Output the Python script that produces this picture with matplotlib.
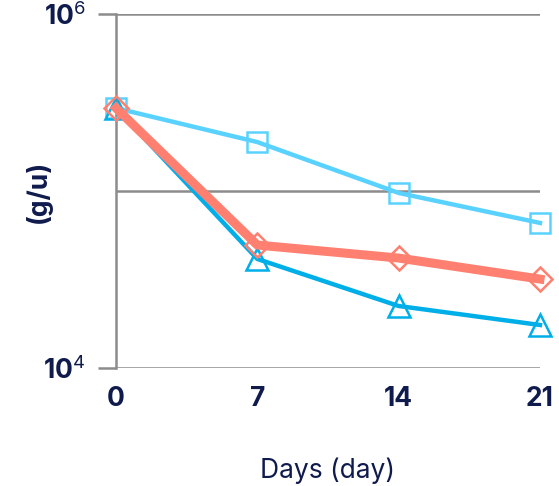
import numpy as np
import matplotlib.pyplot as plt
from matplotlib.ticker import FixedLocator, NullLocator

plt.rcParams['font.family'] = ['Inter', 'DejaVu Sans']
plt.rcParams['mathtext.fontset'] = 'custom'
plt.rcParams['mathtext.rm'] = 'Inter'
plt.rcParams['mathtext.bf'] = 'Inter:bold'

days = [0, 7, 14, 21]
squares = [2.94e5, 1.89e5, 9.75e4, 6.6e4]
diamonds = [2.94e5, 4.95e4, 4.18e4, 3.18e4]
triangles = [2.94e5, 4.13e4, 2.24e4, 1.75e4]

navy = '#0f1b4c'
grid_c = '#8c8c8c'

fig = plt.figure(figsize=(5.59, 4.86), dpi=100)
ax = fig.add_axes([116 / 559, 1 - 368 / 486, (540 - 116) / 559, (368 - 14) / 486])

ax.set_yscale('log')
ax.set_ylim(1e4, 1e6)
ax.set_xlim(0, 21)

for v in [1e4, 1e5, 1e6]:
    ax.axhline(v, color=grid_c, lw=1.8, zorder=1)

ax.plot(days, squares, color='#5ad2ff', lw=3.2, marker='s', ms=14.5,
        mfc='none', mec='#5ad2ff', mew=1.8, clip_on=False, zorder=3)
ax.plot(days, triangles, color='#00aee8', lw=3.2, marker='^', ms=16,
        mfc='none', mec='#00aee8', mew=1.8, clip_on=False, zorder=4)
ax.plot(days, diamonds, color='#ff8070', lw=6.5, marker='D', ms=12.5,
        mfc='none', mec='#ff8070', mew=1.8, clip_on=False, zorder=5)

for s in ['top', 'right', 'bottom']:
    ax.spines[s].set_visible(False)
ax.spines['left'].set_color(grid_c)
ax.spines['left'].set_linewidth(1.8)

ax.yaxis.set_major_locator(FixedLocator([1e4, 1e6]))
ax.yaxis.set_minor_locator(NullLocator())
ax.set_yticklabels([r'10$^{4}$', r'10$^{6}$'], fontsize=19, fontweight='bold', color=navy)
ax.tick_params(axis='y', length=13, width=1.8, color=grid_c, pad=9)

ax.set_xticks(days)
ax.set_xticklabels(['0', '7', '14', '21'], fontsize=19, fontweight='bold', color=navy)
ax.tick_params(axis='x', length=0, pad=13)

ax.set_xlabel('Days (day)', fontsize=19, color=navy, labelpad=33)
fig.text(38 / 559, 1 - 191 / 486, '(g/u)', rotation=90, ha='center', va='center',
         fontsize=19, fontweight='bold', color=navy)

fig.savefig('out.png', dpi=100)
